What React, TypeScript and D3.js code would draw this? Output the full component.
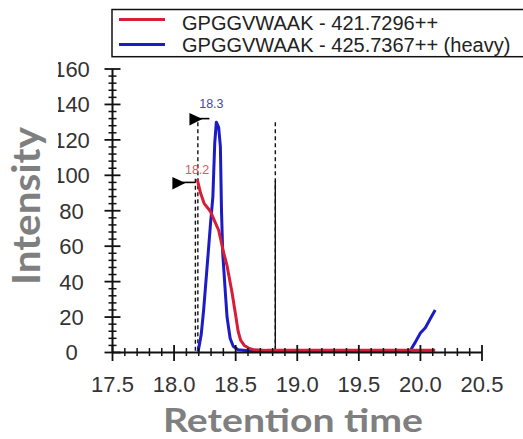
import React from 'react';
import * as d3 from 'd3';

// ---- data ----
const legendLabels = ['GPGGVWAAK - 421.7296++', 'GPGGVWAAK - 425.7367++ (heavy)'];
const seriesColors = ['#d81e36', '#1c1cc4'];

// light (red) chromatogram: [retention time, intensity]
const lightTrace: [number, number][] = [
  [18.187, 98], [18.215, 90], [18.245, 84], [18.28, 81], [18.3, 79], [18.33, 74],
  [18.362, 69], [18.4, 57], [18.43, 49], [18.47, 34], [18.5, 21], [18.52, 12],
  [18.54, 7], [18.57, 4], [18.605, 2.5], [18.65, 1.5], [18.75, 1.2], [19.2, 1.2],
  [19.7, 1.2], [20.12, 1.2],
];

// heavy (blue) chromatogram
const heavyTrace: [number, number][] = [
  [18.195, 0.5], [18.22, 10], [18.24, 24], [18.27, 50], [18.295, 72], [18.315, 88],
  [18.33, 118], [18.343, 130], [18.362, 127], [18.376, 116], [18.385, 80], [18.395, 56],
  [18.415, 35], [18.43, 20], [18.455, 8], [18.48, 3.5], [18.52, 1.5], [18.6, 1],
  [19.2, 1], [19.917, 1], [19.96, 6], [20.0, 11], [20.04, 14], [20.08, 19], [20.12, 24],
];

const xTicks = [17.5, 18.0, 18.5, 19.0, 19.5, 20.0, 20.5];
const yTicks = [0, 20, 40, 60, 80, 100, 120, 140, 160];

// peak annotations: label, label rt, label intensity, colour index
const peakLabels = ['18.3', '18.2'];
const peakLabelRt = [18.303, 18.187];
const peakLabelInt = [138, 101];
const peakLabelColors = ['#4646a6', '#d45a66'];

// flags (end rt, intensity)
const flagRt = [18.287, 18.173];
const flagInt = [132, 96];

// boundaries
const dashedBoundaries: [number, number][] = [[18.193, 130], [18.173, 98], [18.822, 130]];
const solidBoundaries: [number, number][] = [[18.822, 97]];

const W = 523;
const H = 439;

export default function App() {
  const x = d3.scaleLinear().domain([17.5, 20.5]).range([112.5, 482]);
  const y = d3.scaleLinear().domain([0, 160]).range([352.5, 69]);

  const line = d3
    .line<[number, number]>()
    .x((d) => x(d[0]))
    .y((d) => y(d[1]));

  const xMinor = d3.range(17.5, 20.5001, 0.1).filter((v) => Math.abs((v * 2) - Math.round(v * 2)) > 0.01);
  const yMinor = d3.range(0, 160.001, 4).filter((v) => v % 20 !== 0);

  const tickFont = "'Liberation Sans', Arial, sans-serif";
  const titleFont = "Lato, 'Open Sans', sans-serif";

  return (
    <svg
      width={W}
      height={H}
      style={{ position: 'absolute', left: 0, top: 0, background: '#fff' }}
    >
      <defs>
        <clipPath id="ylab">
          <rect x={58} y={0} width={100} height={H} />
        </clipPath>
      </defs>
      <rect x={0} y={0} width={W} height={H} fill="#fff" />

      {/* legend */}
      <rect x={112} y={9.5} width={430} height={47.2} fill="#fff" stroke="#111" strokeWidth={1.5} />
      {legendLabels.map((l, i) => (
        <g key={l}>
          <line x1={119} x2={165} y1={i === 0 ? 19.5 : 44.5} y2={i === 0 ? 19.5 : 44.5}
            stroke={seriesColors[i]} strokeWidth={3} />
          <text x={182} y={i === 0 ? 29.5 : 52} fontFamily={tickFont} fontSize={20} fill="#222">{l}</text>
        </g>
      ))}

      {/* boundaries */}
      {dashedBoundaries.map((b, i) => (
        <line key={'d' + i} x1={x(b[0])} x2={x(b[0])} y1={y(b[1])} y2={y(0)}
          stroke="#111" strokeWidth={1.4} strokeDasharray="4 3" />
      ))}
      {solidBoundaries.map((b, i) => (
        <line key={'s' + i} x1={x(b[0])} x2={x(b[0])} y1={y(b[1])} y2={y(0)}
          stroke="#111" strokeWidth={1.4} />
      ))}

      {/* traces */}
      <path d={line(heavyTrace) || ''} fill="none" stroke={seriesColors[1]} strokeWidth={3} strokeLinejoin="round" />
      <path d={line(lightTrace) || ''} fill="none" stroke={seriesColors[0]} strokeWidth={3} strokeLinejoin="round" />

      {/* flags */}
      {flagRt.map((r, i) => {
        const ex = x(r);
        const ey = y(flagInt[i]);
        const lx = ex - (i === 0 ? 20 : 23);
        return (
          <g key={'f' + i}>
            <polygon points={`${lx},${ey - 5.5} ${lx},${ey + 7} ${lx + 13},${ey + 0.5}`} fill="#000" />
            <line x1={lx + 10} x2={ex} y1={ey} y2={ey} stroke="#000" strokeWidth={1.6} />
          </g>
        );
      })}

      {/* peak labels */}
      {peakLabels.map((l, i) => (
        <text key={l} x={x(peakLabelRt[i])} y={y(peakLabelInt[i])} textAnchor="middle"
          fontFamily={tickFont} fontSize={12.5} fill={peakLabelColors[i]}>{l}</text>
      ))}

      {/* axes */}
      <line x1={x(17.5)} x2={x(17.5)} y1={y(160)} y2={y(0)} stroke="#111" strokeWidth={2} />
      <line x1={x(17.5)} x2={x(20.5)} y1={y(0)} y2={y(0)} stroke="#111" strokeWidth={2} />
      {yTicks.map((t) => (
        <line key={'yt' + t} x1={x(17.5) - 8} x2={x(17.5) + 8} y1={y(t)} y2={y(t)} stroke="#111" strokeWidth={1.8} />
      ))}
      {yMinor.map((t) => (
        <line key={'ym' + t} x1={x(17.5) - 4} x2={x(17.5) + 4} y1={y(t)} y2={y(t)} stroke="#111" strokeWidth={1.5} />
      ))}
      {xTicks.map((t) => (
        <line key={'xt' + t} x1={x(t)} x2={x(t)} y1={y(0) - 7.5} y2={y(0) + 8.5} stroke="#111" strokeWidth={1.8} />
      ))}
      {xMinor.map((t) => (
        <line key={'xm' + t} x1={x(t)} x2={x(t)} y1={y(0) - 4.5} y2={y(0) + 3.5} stroke="#111" strokeWidth={1.5} />
      ))}

      {/* tick labels */}
      <g clipPath="url(#ylab)">
        {yTicks.map((t) => (
          <text key={'yl' + t} x={71.5} y={y(t)} dy="0.36em" textAnchor="middle"
            fontFamily={tickFont} fontSize={22} fill="#333">{t}</text>
        ))}
      </g>
      {xTicks.map((t) => (
        <text key={'xl' + t} x={x(t)} y={391.5} textAnchor="middle"
          fontFamily={tickFont} fontSize={22} fill="#333">{t.toFixed(1)}</text>
      ))}

      {/* titles */}
      <text transform="translate(40,206) rotate(-90)" textAnchor="middle" fontFamily={titleFont}
        fontWeight={700} fontSize={39} fill="#7f7f7f" textLength={158} lengthAdjust="spacingAndGlyphs">Intensity</text>
      <text x={293} y={431.5} textAnchor="middle" fontFamily={titleFont}
        fontWeight={700} fontSize={33} fill="#7f7f7f" textLength={260} lengthAdjust="spacingAndGlyphs">Retention time</text>
    </svg>
  );
}
